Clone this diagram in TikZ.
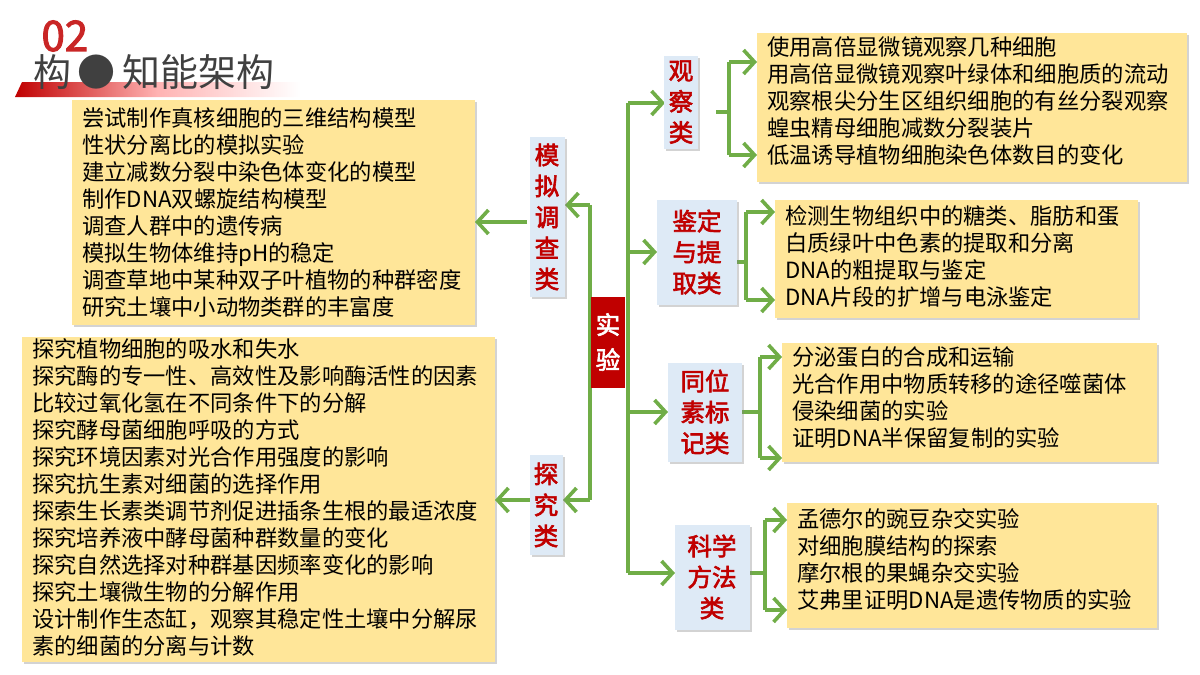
\documentclass[tikz,border=0pt]{standalone}
\usepackage{fontspec}
\setmainfont{Noto Sans CJK SC}[AutoFakeBold=2.5]
\usetikzlibrary{arrows.meta,shadows}
\definecolor{gr}{HTML}{70AD47}
\definecolor{bx}{HTML}{FFE699}
\definecolor{cb}{HTML}{DEEAF6}
\definecolor{dr}{HTML}{C00000}
\begin{document}
\begin{tikzpicture}[x=1pt,y=-1pt,
 txt/.style={anchor=north west,align=left,font=\fontsize{22.3}{27}\selectfont,inner sep=0pt},
 cat/.style={fill=cb,drop shadow={shadow xshift=2pt,shadow yshift=-2pt,opacity=0.35},text=dr,font=\fontsize{24.5}{31}\selectfont\bfseries,align=center,inner sep=2pt},
 ln/.style={draw=gr,line width=3.6pt},
 ar/.style={ln,-{Straight Barb[length=11pt,width=24pt,line width=3.6pt]}}]
\useasboundingbox (0,0) rectangle (1200,675);
% title
\shade[left color=dr,right color=white,middle color=red!30] (22,82) -- (300,82) -- (300,97) -- (15,97) -- cycle;
\node[text=dr!85,font=\fontsize{42}{42}\selectfont\bfseries,anchor=west] (num) at (38,36) {02};
\node[text=black!75,font=\fontsize{38}{38}\selectfont,anchor=west] (title) at (30,72) {构\,●\,知能架构};
% boxes
\fill[bx,drop shadow={shadow xshift=2pt,shadow yshift=-2pt,opacity=0.35}] (72,100) rectangle (475,325);
\node[txt] (ta) at (82,107) {尝试制作真核细胞的三维结构模型\\性状分离比的模拟实验\\建立减数分裂中染色体变化的模型\\制作DNA双螺旋结构模型\\调查人群中的遗传病\\模拟生物体维持pH的稳定\\调查草地中某种双子叶植物的种群密度\\研究土壤中小动物类群的丰富度};
\fill[bx,drop shadow={shadow xshift=2pt,shadow yshift=-2pt,opacity=0.35}] (22,337) rectangle (495,662);
\node[txt] (tb) at (32,338) {探究植物细胞的吸水和失水\\探究酶的专一性、高效性及影响酶活性的因素\\比较过氧化氢在不同条件下的分解\\探究酵母菌细胞呼吸的方式\\探究环境因素对光合作用强度的影响\\探究抗生素对细菌的选择作用\\探索生长素类调节剂促进插条生根的最适浓度\\探究培养液中酵母菌种群数量的变化\\探究自然选择对种群基因频率变化的影响\\探究土壤微生物的分解作用\\设计制作生态缸，观察其稳定性土壤中分解尿\\素的细菌的分离与计数};
\fill[bx,drop shadow={shadow xshift=2pt,shadow yshift=-2pt,opacity=0.35}] (757,33) rectangle (1187,182);
\node[txt] (tc) at (767,36) {使用高倍显微镜观察几种细胞\\用高倍显微镜观察叶绿体和细胞质的流动\\观察根尖分生区组织细胞的有丝分裂观察\\蝗虫精母细胞减数分裂装片\\低温诱导植物细胞染色体数目的变化};
\fill[bx,drop shadow={shadow xshift=2pt,shadow yshift=-2pt,opacity=0.35}] (775,200) rectangle (1138,318);
\node[txt] (td) at (785,205) {检测生物组织中的糖类、脂肪和蛋\\白质绿叶中色素的提取和分离\\DNA的粗提取与鉴定\\DNA片段的扩增与电泳鉴定};
\fill[bx,drop shadow={shadow xshift=2pt,shadow yshift=-2pt,opacity=0.35}] (782,343) rectangle (1157,462);
\node[txt] (te) at (792,346) {分泌蛋白的合成和运输\\光合作用中物质转移的途径噬菌体\\侵染细菌的实验\\证明DNA半保留复制的实验};
\fill[bx,drop shadow={shadow xshift=2pt,shadow yshift=-2pt,opacity=0.35}] (787,503) rectangle (1157,628);
\node[txt] (tf) at (797,508) {孟德尔的豌豆杂交实验\\对细胞膜结构的探索\\摩尔根的果蝇杂交实验\\艾弗里证明DNA是遗传物质的实验};
% coordinates
\coordinate (pa) at (475,222);
\coordinate (pb) at (495,500);
\coordinate (c1) at (757,62); \coordinate (c2) at (757,155);
\coordinate (d1) at (775,212); \coordinate (d2) at (775,300);
\coordinate (e1) at (782,357); \coordinate (e2) at (782,458);
\coordinate (f1) at (787,520); \coordinate (f2) at (787,610);
% connectors
\draw[ln] (590,205) -- (590,500);
\draw[ln] (628,103) -- (628,573);
\draw[ar] (590,205) -- (565,205);
\draw[ar] (590,500) -- (563,500);
\draw[ar] (628,103) -- (665,103);
\draw[ar] (628,252) -- (657,252);
\draw[ar] (628,412) -- (668,412);
\draw[ar] (628,573) -- (675,573);
\draw[ar] (527,222) -- (pa);
\draw[ar] (530,500) -- (pb);
\draw[ln] (716,112) -- (729,112);
\draw[ln] (729,62) -- (729,155);
\draw[ar] (729,62) -- (c1); \draw[ar] (729,155) -- (c2);
\draw[ln] (737,262) -- (746,262); \draw[ln] (746,212) -- (746,300);
\draw[ar] (746,212) -- (d1); \draw[ar] (746,300) -- (d2);
\draw[ln] (742,412) -- (760,412); \draw[ln] (760,357) -- (760,458);
\draw[ar] (760,357) -- (e1); \draw[ar] (760,458) -- (e2);
\draw[ln] (750,573) -- (765,573); \draw[ln] (765,520) -- (765,610);
\draw[ar] (765,520) -- (f1); \draw[ar] (765,610) -- (f2);
% category nodes
\node[cat,minimum width=35pt,minimum height=160pt] (mn) at (547,217) {模\\拟\\调\\查\\类};
\node[cat,minimum width=33pt,minimum height=100pt] (tj) at (546,505) {探\\究\\类};
\node[fill=dr,text=white,font=\fontsize{24.5}{31}\selectfont\bfseries,align=center,minimum width=34pt,minimum height=91pt,inner sep=0pt] (sy) at (608,342) {实\\[4pt]验};
\node[cat,minimum width=34pt,minimum height=93pt] (gc) at (681,102) {观\\察\\类};
\node[cat,minimum width=80pt,minimum height=105pt] (jd) at (697,252) {鉴定\\与提\\取类};
\node[cat,minimum width=74pt,minimum height=99pt] (tw) at (705,412) {同位\\素标\\记类};
\node[cat,minimum width=75pt,minimum height=105pt] (kx) at (712,577) {科学\\方法\\类};
\end{tikzpicture}
\end{document}
